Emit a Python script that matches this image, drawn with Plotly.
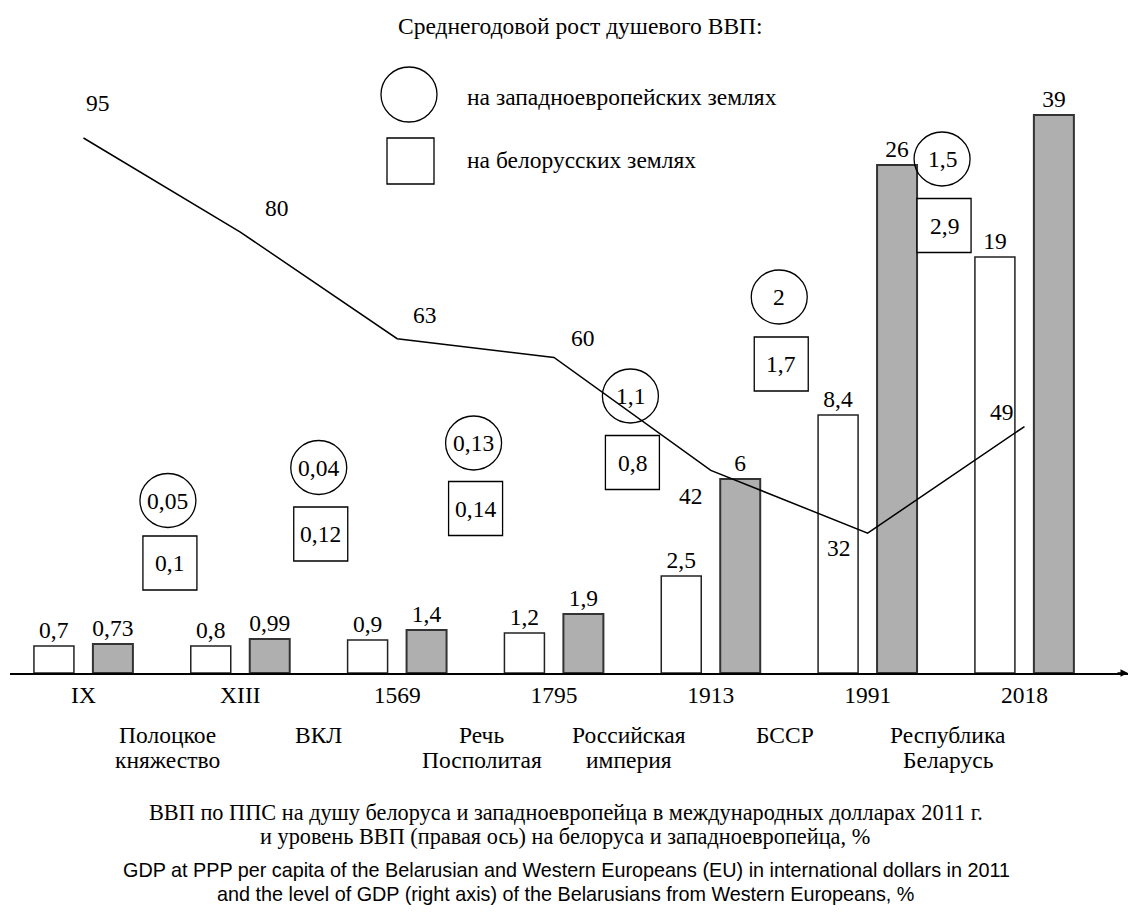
import plotly.graph_objects as go

# ---------------- data ----------------
periods = ["IX", "XIII", "1569", "1795", "1913", "1991", "2018"]
gdp_belarus = [0.7, 0.8, 0.9, 1.2, 2.5, 8.4, 19]        # white bars, thousand int. $ 2011
gdp_west = [0.73, 0.99, 1.4, 1.9, 6, 26, 39]            # grey bars
# bar heights as drawn in the original schematic (the original is not to scale)
drawn_belarus = [27, 27, 33, 40, 97, 258, 416]
drawn_west = [29, 34, 43, 59, 194, 508, 558]
level_pct = [95, 80, 63, 60, 42, 32, 49]                # right axis, %
growth_west = [0.05, 0.04, 0.13, 1.1, 2, 1.5]           # circles
growth_belarus = [0.1, 0.12, 0.14, 0.8, 1.7, 2.9]       # squares
eras = [["Полоцкое", "княжество"], ["ВКЛ"], ["Речь", "Посполитая"],
        ["Российская", "империя"], ["БССР"], ["Республика", "Беларусь"]]

# ---------------- layout geometry (style) ----------------
W, H = 1131, 912
L, R, T, B = 10, 3, 0, 239
PW, PH = W - L - R, H - T - B
X0PX, UNIT = 83.5, 156.83           # pixel of category 0, pixels per category
XR = [(L - X0PX) / UNIT, (W - R - X0PX) / UNIT]
Y2R = [9.7, 117.0]

SERIF = "Liberation Serif, Times New Roman, Tinos, DejaVu Serif, serif"
SANS = "Liberation Sans, Arial, Arimo, DejaVu Sans, sans-serif"
FS = 23.5


def fmt(v):
    return f"{v:g}".replace(".", ",")


def px2paper(px, py):
    return (px - L) / PW, (H - B - py) / PH


def note(**kw):
    kw.setdefault("showarrow", False)
    kw.setdefault("xanchor", "center")
    kw.setdefault("yanchor", "middle")
    fig.add_annotation(**kw)


fig = go.Figure()

fig.add_trace(go.Bar(
    x=list(range(len(periods))), y=drawn_belarus, width=0.255, offset=-0.316,
    marker=dict(color="white", line=dict(color="#222", width=1.5)),
    text=[fmt(v) for v in gdp_belarus], textposition="outside", constraintext="none",
    textfont=dict(family=SERIF, size=FS, color="black"), cliponaxis=False,
    showlegend=False, hoverinfo="skip"))
fig.add_trace(go.Bar(
    x=list(range(len(periods))), y=drawn_west, width=0.255, offset=0.06,
    marker=dict(color="#afafaf", line=dict(color="#333", width=2)),
    text=[fmt(v) for v in gdp_west], textposition="outside", constraintext="none",
    textfont=dict(family=SERIF, size=FS, color="black"), cliponaxis=False,
    showlegend=False, hoverinfo="skip"))
fig.add_trace(go.Scatter(
    x=list(range(len(periods))), y=level_pct, yaxis="y2", mode="lines",
    line=dict(color="black", width=1.5), showlegend=False, hoverinfo="skip"))

# labels of the line
line_lbl_shift = [(14, 35), (37, 24), (28, 24), (29, 20), (-20, -26), (-29, -15), (-22, 15)]
for i, v in enumerate(level_pct):
    dx, dy = line_lbl_shift[i]
    note(x=i, y=v, xref="x", yref="y2", text=str(v),
         xshift=dx, yshift=dy, font=dict(family=SERIF, size=FS, color="black"))

# growth circles / squares between periods
circ_y = [172.5, 205.5, 230, 277, 376, 514]
sq_y = [110, 139, 164.5, 210.5, 309, 447.5]
mk_dx = [6, 0, -2, -2, -10, -4]
shapes = []
for k in range(len(growth_west)):
    cx = k + 0.5 + mk_dx[k] / UNIT
    sx = k + 0.5 + (mk_dx[k] + 2) / UNIT
    shapes.append(dict(type="circle", xref="x", yref="y", xsizemode="pixel", ysizemode="pixel",
                       xanchor=cx, yanchor=circ_y[k], x0=-28, x1=28, y0=-27, y1=27,
                       line=dict(color="black", width=1.3), fillcolor="rgba(0,0,0,0)"))
    shapes.append(dict(type="rect", xref="x", yref="y", xsizemode="pixel", ysizemode="pixel",
                       xanchor=sx, yanchor=sq_y[k], x0=-27, x1=27, y0=-27, y1=27,
                       line=dict(color="black", width=1.3), fillcolor="white"))
    note(x=cx, y=circ_y[k], xref="x", yref="y", text=fmt(growth_west[k]),
         font=dict(family=SERIF, size=FS, color="black"))
    note(x=sx, y=sq_y[k], xref="x", yref="y", text=fmt(growth_belarus[k]),
         font=dict(family=SERIF, size=FS, color="black"))

# era labels below the axis
era_dx = [6, 0, 6, -3, -4, 2]
for k, lines in enumerate(eras):
    for j, t in enumerate(lines):
        _, yp = px2paper(0, 735 + 25 * j)
        note(x=k + 0.5 + era_dx[k] / UNIT, y=yp, xref="x", yref="paper", text=t,
             font=dict(family=SERIF, size=FS, color="black"))

# legend
lx, ly = px2paper(409, 94.5)
shapes.append(dict(type="circle", xref="paper", yref="paper", xsizemode="pixel", ysizemode="pixel",
                   xanchor=lx, yanchor=ly, x0=-28, x1=28, y0=-27.5, y1=27.5,
                   line=dict(color="black", width=1.3)))
sx_, sy_ = px2paper(410.5, 161)
shapes.append(dict(type="rect", xref="paper", yref="paper", xsizemode="pixel", ysizemode="pixel",
                   xanchor=sx_, yanchor=sy_, x0=-23.5, x1=23.5, y0=-23, y1=23,
                   line=dict(color="black", width=1.3)))
for txt, py in [("на западноевропейских землях", 97), ("на белорусских землях", 160)]:
    xp, yp = px2paper(465, py)
    note(x=xp, y=yp, xref="paper", yref="paper", text=txt, xanchor="left",
         font=dict(family=SERIF, size=FS, color="black"))

# title and captions
for txt, px, py, fam, size in [
    ("Среднегодовой рост душевого ВВП:", 580, 26, SERIF, FS),
    ("ВВП по ППС на душу белоруса и западноевропейца в международных долларах 2011 г.", 566, 812, SERIF, 22.3),
    ("и уровень ВВП (правая ось) на белоруса и западноевропейца, %", 565, 836, SERIF, 22.3),
    ("GDP at PPP per capita of the Belarusian and Western Europeans (EU) in international dollars in 2011", 566, 870, SANS, 19.8),
    ("and the level of GDP (right axis) of the Belarusians from Western Europeans, %", 565, 894, SANS, 19.8),
]:
    xp, yp = px2paper(px, py)
    note(x=xp, y=yp, xref="paper", yref="paper", text=txt,
         font=dict(family=fam, size=size, color="black"))

# axis arrow head
fig.add_annotation(x=1, y=0, xref="paper", yref="paper", ax=-12, ay=0, text="",
                   showarrow=True, arrowhead=2, arrowsize=1, arrowwidth=1.5, arrowcolor="black")

fig.update_layout(
    width=W, height=H, margin=dict(l=L, r=R, t=T, b=B),
    paper_bgcolor="white", plot_bgcolor="white",
    barmode="overlay", shapes=shapes,
    xaxis=dict(range=XR, showgrid=False, zeroline=False, showline=True, linecolor="black",
               linewidth=2, ticks="", tickmode="array", tickvals=list(range(len(periods))),
               ticktext=periods, tickfont=dict(family=SERIF, size=FS, color="black")),
    yaxis=dict(range=[0, PH], visible=False, showgrid=False, zeroline=False),
    yaxis2=dict(range=Y2R, overlaying="y", side="right", visible=False, showgrid=False),
)

fig.write_html("out.html", config={"displayModeBar": False},
               post_script="document.body.style.margin='0px';")
